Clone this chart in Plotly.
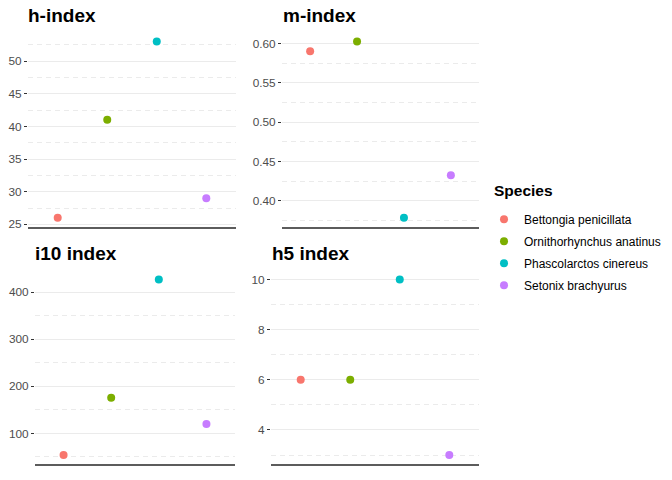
import plotly.graph_objects as go

species = ["Bettongia penicillata", "Ornithorhynchus anatinus",
           "Phascolarctos cinereus", "Setonix brachyurus"]
colors = ["#F8766D", "#7CAE00", "#00BFC4", "#C77CFF"]

h_index = [26, 41, 53, 29]
m_index = [0.590, 0.6025, 0.3786, 0.4325]
i10_index = [54, 176, 427, 120]
h5_index = [6, 6, 10, 3]

panels = [
    ("h-index", h_index, [25, 30, 35, 40, 45, 50], 2.5, None),
    ("m-index", m_index, [0.40, 0.45, 0.50, 0.55, 0.60], 0.025, ".2f"),
    ("i10 index", i10_index, [100, 200, 300, 400], 50, None),
    ("h5 index", h5_index, [4, 6, 8, 10], 1, None),
]

W, H = 672, 480


def fx(x):
    return x / W


def fy(y):
    return 1 - y / H


# panel boxes in screen pixels: (x0, x1, ytop, ybottom)
boxes = [(28, 236, 33, 229), (282, 479, 33, 229),
         (35, 235, 273.6, 468.7), (271, 479, 273.6, 468.7)]
title_pos = [(28, 16), (282.5, 16), (35, 256), (271.5, 256)]

fig = go.Figure()
FONT = "Liberation Sans, Arial, sans-serif"

for k, (title, vals, ticks, minor_d, fmt) in enumerate(panels):
    ax = "" if k == 0 else str(k + 1)
    for i, sp in enumerate(species):
        fig.add_trace(go.Scatter(
            x=[sp], y=[vals[i]], mode="markers",
            marker=dict(color=colors[i], size=8, line=dict(width=0)),
            name=sp, legendgroup=sp, showlegend=(k == 0),
            xaxis="x" + ax, yaxis="y" + ax,
        ))
    x0, x1, yt, yb = boxes[k]
    lo, hi = min(vals), max(vals)
    pad = (hi - lo) * 0.05
    fig.layout["xaxis" + ax] = dict(
        domain=[fx(x0), fx(x1)], anchor="y" + ax,
        type="category", categoryorder="array", categoryarray=species,
        range=[-0.6, 3.6], showticklabels=False, ticks="",
        showgrid=False, zeroline=False,
        showline=True, linecolor="#5C5C5C", linewidth=1.6,
    )
    fig.layout["yaxis" + ax] = dict(
        domain=[fy(yb), fy(yt)], anchor="x" + ax,
        range=[lo - pad, hi + pad], tickvals=ticks,
        tickformat=fmt, ticks="outside", ticklen=3, tickwidth=1,
        tickcolor="#333333", showline=False, zeroline=False,
        showgrid=True, gridcolor="#EBEBEB", gridwidth=1.1,
        tickfont=dict(family=FONT, size=11.8, color="#4D4D4D"),
        minor=dict(dtick=minor_d, tick0=ticks[0], showgrid=True,
                   gridcolor="#EBEBEB", gridwidth=0.8, griddash="5px,4px"),
    )
    tx, ty = title_pos[k]
    fig.add_annotation(
        text="<b>%s</b>" % title, xref="paper", yref="paper",
        x=fx(tx), y=fy(ty), xanchor="left", yanchor="middle",
        showarrow=False, xshift=-2,
        font=dict(family=FONT, size=19, color="#000000"),
    )

fig.add_annotation(
    text="<b>Species</b>", xref="paper", yref="paper",
    x=fx(494), y=fy(192), xanchor="left", yanchor="middle",
    showarrow=False, xshift=-2,
    font=dict(family=FONT, size=15.5, color="#000000"),
)

fig.update_layout(
    width=W, height=H, margin=dict(l=0, r=0, t=0, b=0),
    paper_bgcolor="white", plot_bgcolor="white",
    showlegend=True,
    legend=dict(
        x=fx(484), y=fy(207), xanchor="left", yanchor="top",
        font=dict(family=FONT, size=12, color="#000"),
        tracegroupgap=3, itemwidth=30, bgcolor="rgba(0,0,0,0)",
    ),
)

fig.write_html("out.html",
               config={"displayModeBar": False},
               post_script="document.body.style.margin='0px';"
                           "document.body.style.overflow='hidden';")
